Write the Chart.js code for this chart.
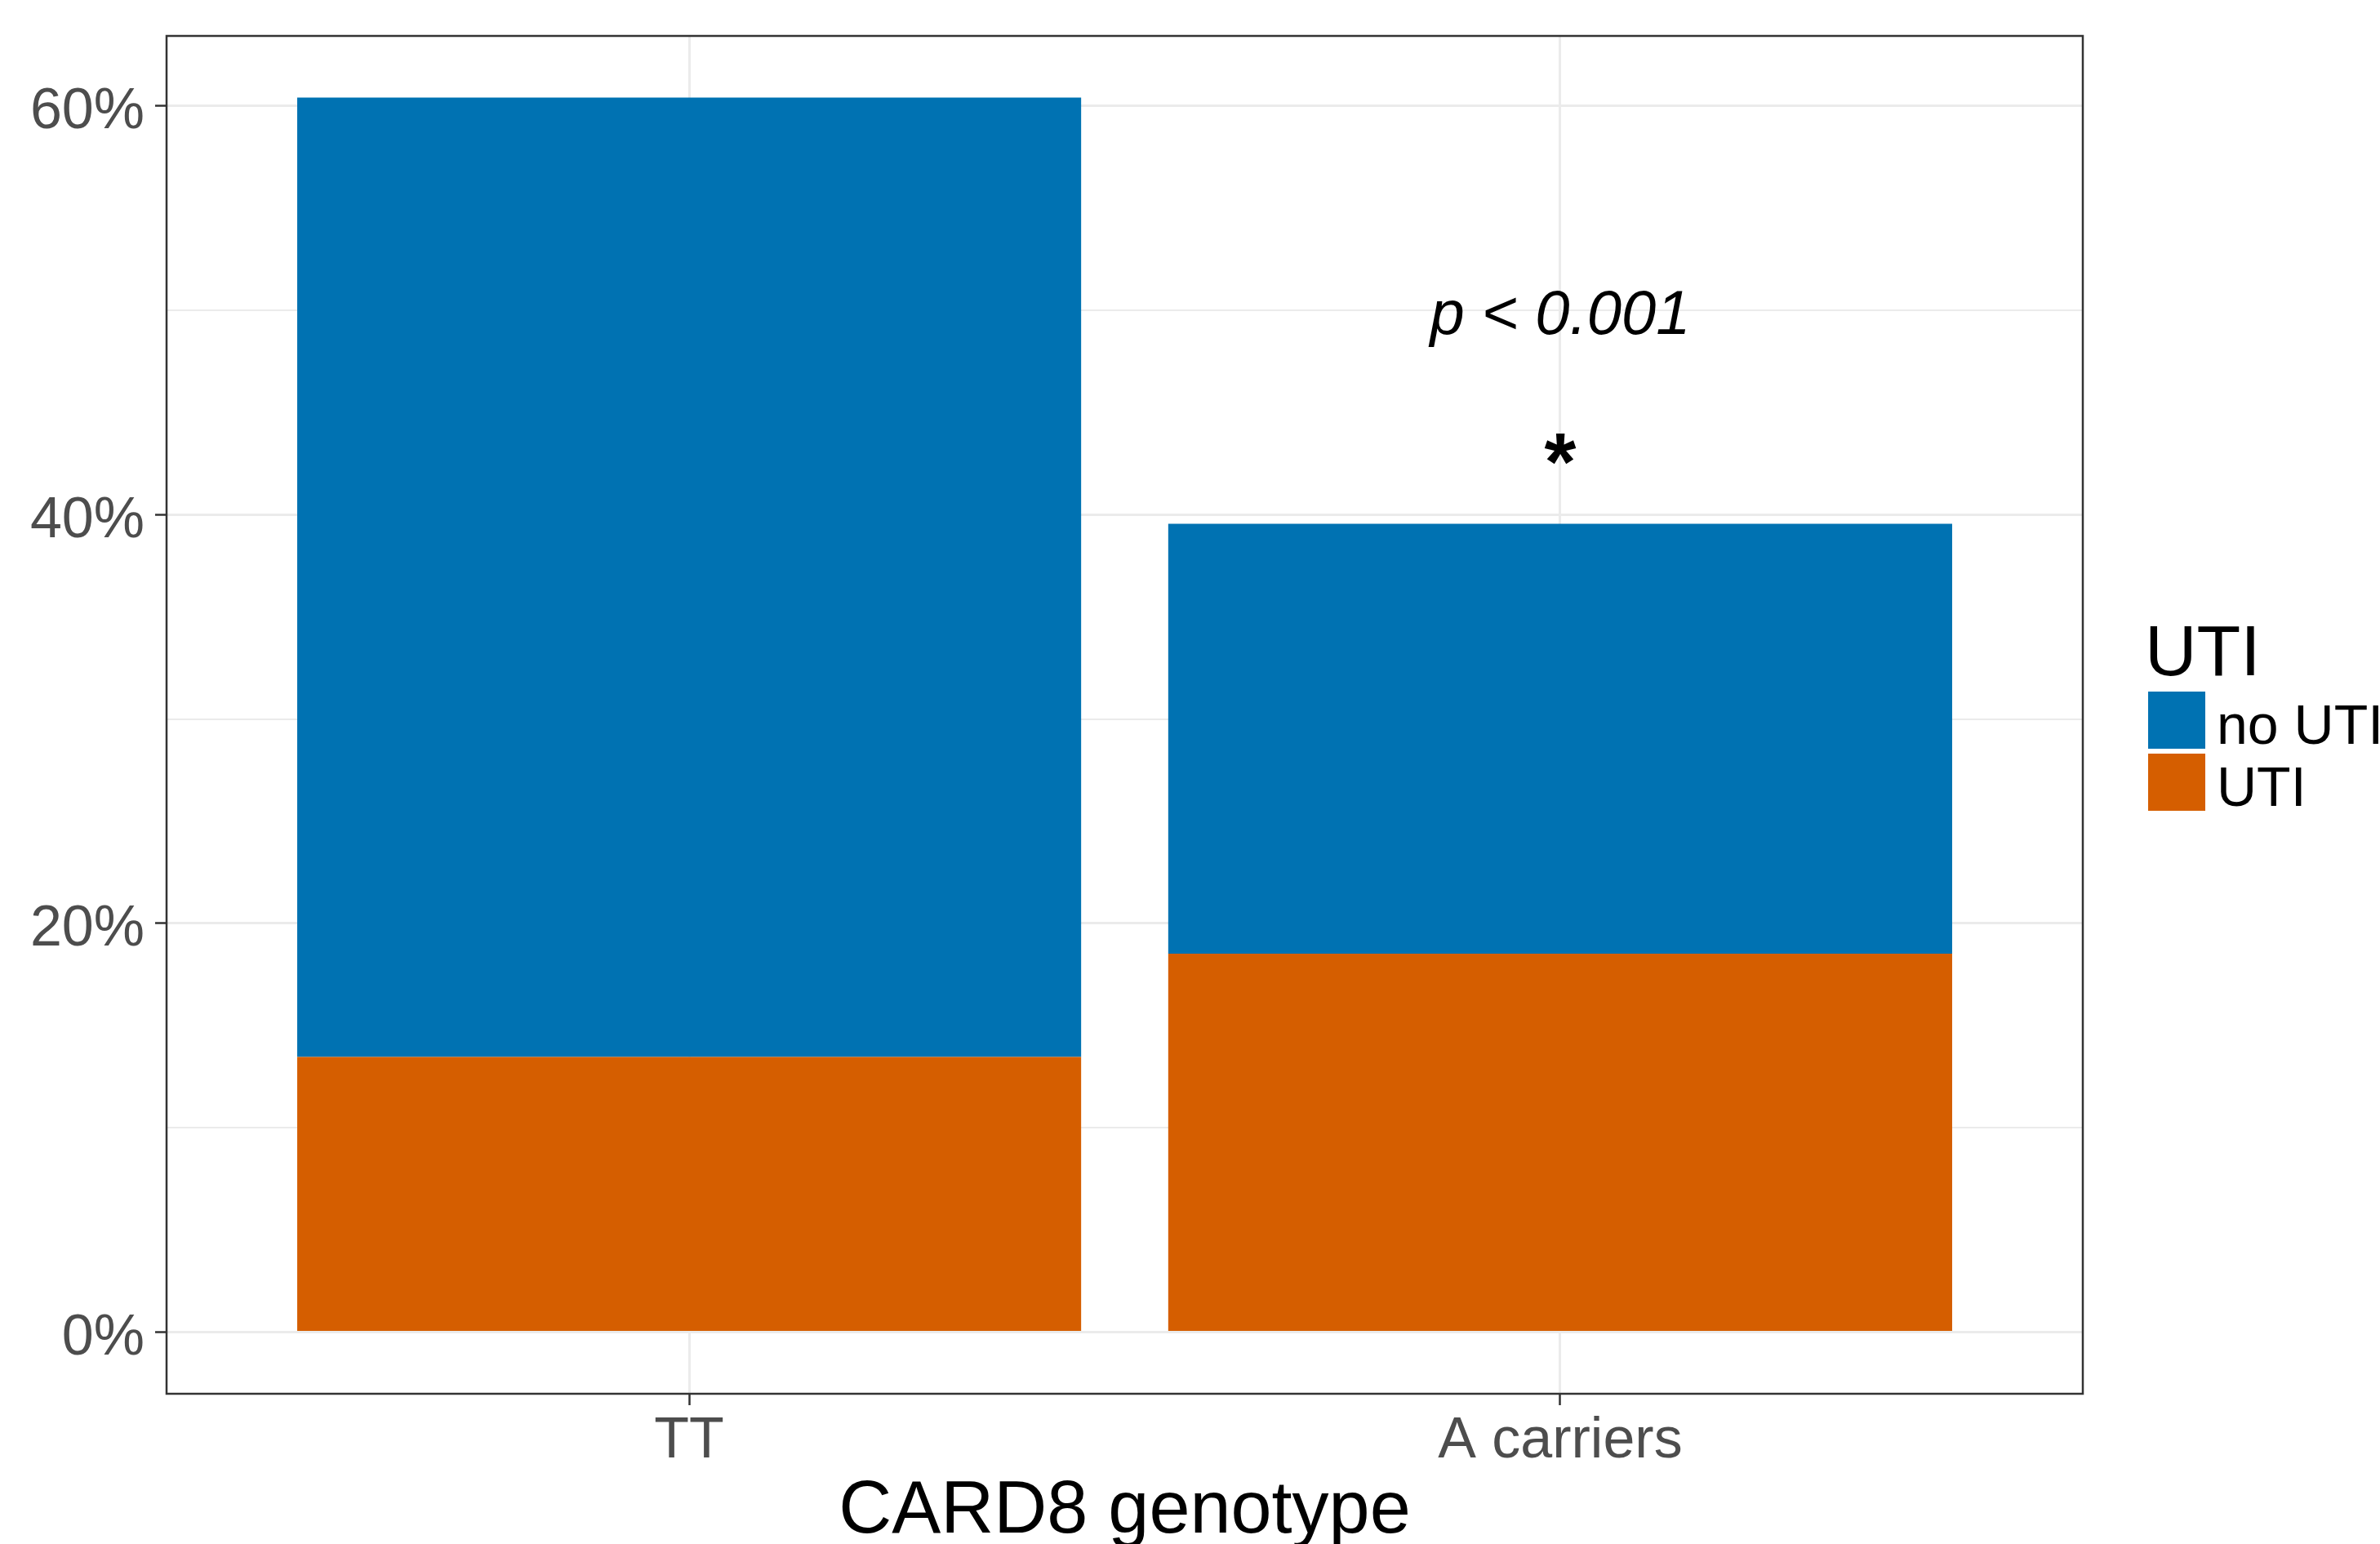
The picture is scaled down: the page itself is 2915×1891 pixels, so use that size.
<!DOCTYPE html>
<html>
<head>
<meta charset="utf-8">
<script src="https://cdn.jsdelivr.net/npm/chart.js@4/dist/chart.umd.min.js"></script>
<style>
  html, body { margin: 0; padding: 0; background: #fff; }
  canvas { display: block; }
</style>
</head>
<body>
<canvas id="chart" width="2915" height="1891"></canvas>
<script>
// data (percent of all patients)
const categories = ['TT', 'A carriers'];
const seriesNames = ['UTI', 'no UTI'];          // stacking order, bottom -> top
const utiPct = [13.46, 18.51];
const noUtiPct = [46.94, 21.04];
const seriesColors = ['#D55E00', '#0072B2'];
const yTickValues = [0, 10, 20, 30, 40, 50, 60];
const yLabelStep = 20;
const legendTitle = 'UTI';
const xTitle = 'CARD8 genotype';

// text annotations above the A carriers bar
const noteTexts = ['p < 0.001', '*'];
const noteCategory = ['A carriers', 'A carriers'];
const noteY = [49.7, 42.3];
const noteFonts = ['italic 76px', 'bold 100px'];

const FONT = "'Liberation Sans', Arial, Helvetica, sans-serif";
Chart.defaults.font.family = FONT;

const seriesValues = [utiPct, noUtiPct];
const totals = categories.map((c, i) => utiPct[i] + noUtiPct[i]);
const yTop = Math.max(...totals);
// ggplot style expansion: 5% on y, 0.6 units on the discrete x
const yMin = -yTop * 0.05;
const yMax = yTop * 1.05;

const panelBorder = {
    id: 'panelBorder',
    afterDatasetsDraw(chart) {
        const a = chart.chartArea;
        const ctx = chart.ctx;
        ctx.save();
        ctx.strokeStyle = '#333333';
        ctx.lineWidth = 2.5;
        ctx.strokeRect(a.left, a.top, a.right - a.left, a.bottom - a.top);
        ctx.restore();
    }
};

const notes = {
    id: 'notes',
    afterDatasetsDraw(chart) {
        const ctx = chart.ctx;
        ctx.save();
        ctx.fillStyle = '#000';
        ctx.textAlign = 'center';
        ctx.textBaseline = 'middle';
        noteTexts.forEach((t, i) => {
            const x = chart.scales.x.getPixelForValue(categories.indexOf(noteCategory[i]) + 1);
            const y = chart.scales.y.getPixelForValue(noteY[i]);
            ctx.font = `${noteFonts[i]} ${FONT}`;
            ctx.fillText(t, x, y);
        });
        ctx.restore();
    }
};

// legend drawn like ggplot: title on top, square keys, first entry = top of stack
const sideLegend = {
    id: 'sideLegend',
    afterDraw(chart) {
        const ctx = chart.ctx;
        const left = chart.chartArea.right + 80;
        const keySize = 70;
        const keyStep = 76;
        const keyTop = 847;
        ctx.save();
        ctx.fillStyle = '#000';
        ctx.textAlign = 'left';
        ctx.textBaseline = 'alphabetic';
        ctx.font = `88px ${FONT}`;
        ctx.fillText(legendTitle, left - 4, 827);
        const items = chart.data.datasets.slice().reverse();
        ctx.font = `68px ${FONT}`;
        items.forEach((ds, i) => {
            const top = keyTop + i * keyStep;
            ctx.fillStyle = ds.backgroundColor;
            ctx.fillRect(left, top, keySize, keySize);
            ctx.fillStyle = '#000';
            ctx.fillText(ds.label, left + keySize + 14, top + 64);
        });
        ctx.restore();
    }
};

new Chart(document.getElementById('chart'), {
    type: 'bar',
    data: {
        datasets: seriesNames.map((name, s) => ({
            label: name,
            data: categories.map((c, i) => ({ x: i + 1, y: seriesValues[s][i] })),
            backgroundColor: seriesColors[s],
            borderWidth: 0,
            categoryPercentage: 0.9,
            barPercentage: 1
        }))
    },
    options: {
        responsive: false,
        animation: false,
        devicePixelRatio: 1,
        layout: { padding: { left: 0, top: 44, right: 364, bottom: -6 } },
        plugins: {
            legend: { display: false },
            tooltip: { enabled: false }
        },
        scales: {
            x: {
                type: 'linear',
                stacked: true,
                offset: false,
                bounds: 'data',
                min: 0.4,
                max: categories.length + 0.6,
                afterBuildTicks: (s) => { s.ticks = categories.map((c, i) => ({ value: i + 1 })); },
                afterFit: (s) => { s.height = 190; s.paddingLeft = 0; s.paddingRight = 0; },
                grid: {
                    offset: false,
                    color: '#EBEBEB',
                    lineWidth: 3,
                    tickLength: 14,
                    tickColor: '#333333',
                    tickWidth: 2.5
                },
                border: { display: false },
                ticks: {
                    callback: (v) => categories[Math.round(v) - 1],
                    color: '#4D4D4D',
                    font: { size: 70, lineHeight: 1 },
                    padding: 10,
                    maxRotation: 0,
                    autoSkip: false
                },
                title: {
                    display: true,
                    text: xTitle,
                    color: '#000',
                    font: { size: 90, lineHeight: 1 },
                    padding: 0
                }
            },
            y: {
                type: 'linear',
                stacked: true,
                bounds: 'data',
                min: yMin,
                max: yMax,
                afterBuildTicks: (s) => { s.ticks = yTickValues.map(v => ({ value: v })); },
                afterFit: (s) => { s.width = 204; s.paddingTop = 0; s.paddingBottom = 0; },
                grid: {
                    color: '#EBEBEB',
                    lineWidth: (c) => (c.tick && c.tick.value % yLabelStep ? 2 : 3),
                    tickLength: 14,
                    tickColor: (c) => (c.tick && c.tick.value % yLabelStep ? 'rgba(0,0,0,0)' : '#333333'),
                    tickWidth: 2.5
                },
                border: { display: false },
                ticks: {
                    callback: (v) => (v % yLabelStep === 0 ? v + '%' : ''),
                    color: '#4D4D4D',
                    font: { size: 70 },
                    padding: 13,
                    labelOffset: 8
                }
            }
        }
    },
    plugins: [panelBorder, notes, sideLegend]
});
</script>
</body>
</html>
